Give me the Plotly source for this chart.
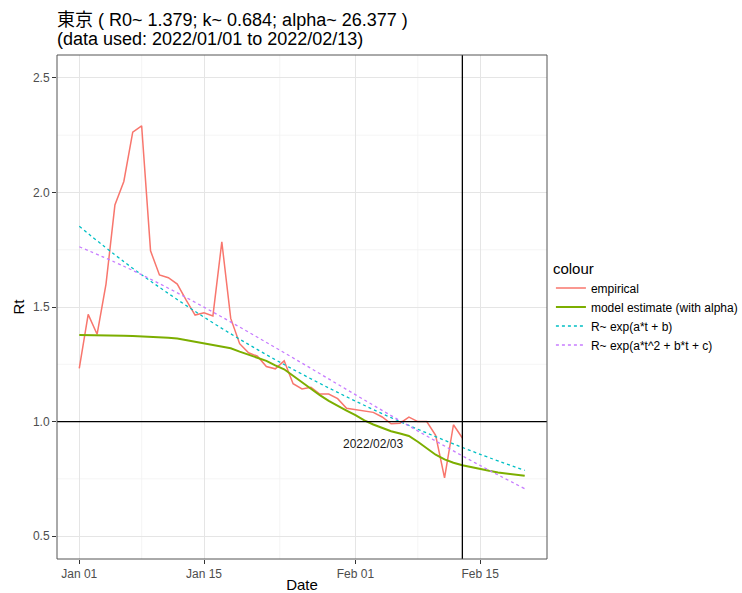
import plotly.graph_objects as go
import pandas as pd

start = pd.Timestamp("2022-01-01")

# empirical Rt (2022-01-01 .. 2022-02-13)
emp_vals = [1.232, 1.468, 1.381, 1.600, 1.945, 2.048, 2.263, 2.291, 1.745, 1.640,
            1.628, 1.600, 1.530, 1.465, 1.475, 1.461, 1.784, 1.450, 1.340, 1.300,
            1.285, 1.240, 1.230, 1.265, 1.165, 1.142, 1.150, 1.120, 1.120, 1.100,
            1.058, 1.052, 1.048, 1.040, 1.020, 0.990, 0.993, 1.019, 1.000, 1.000,
            0.940, 0.754, 0.986, 0.928]

# model estimate (with alpha) 2022-01-01 .. 2022-02-20
model_vals = [1.378, 1.378, 1.378, 1.377, 1.376, 1.375, 1.373, 1.372, 1.370, 1.368,
              1.366, 1.362, 1.355, 1.349, 1.342, 1.336, 1.330, 1.320, 1.305, 1.292,
              1.280, 1.265, 1.245, 1.228, 1.200, 1.171, 1.143, 1.115, 1.090, 1.068,
              1.048, 1.028, 1.005, 0.987, 0.972, 0.958, 0.948, 0.937, 0.912, 0.885,
              0.855, 0.835, 0.820, 0.809, 0.800, 0.792, 0.785, 0.778, 0.772, 0.767,
              0.763]

# fitted curves, read every 5 days from 2022-01-01
fit_days = [0, 5, 10, 15, 20, 25, 30, 35, 40, 45, 50]
exp_lin_vals = [1.852, 1.698, 1.559, 1.431, 1.314, 1.207, 1.108, 1.017, 0.934, 0.857, 0.787]
exp_quad_vals = [1.763, 1.678, 1.582, 1.478, 1.368, 1.255, 1.140, 1.026, 0.915, 0.808, 0.707]

legend_names = ["empirical", "model estimate (with alpha)",
                "R~ exp(a*t + b)", "R~ exp(a*t^2 + b*t + c)"]
colors = ["#F8766D", "#7CAE00", "#00BFC4", "#C77CFF"]

x_ticks = ["2022-01-01", "2022-01-15", "2022-02-01", "2022-02-15"]
x_tick_text = ["Jan 01", "Jan 15", "Feb 01", "Feb 15"]
y_ticks = [0.5, 1.0, 1.5, 2.0, 2.5]

title_line1 = "東京 ( R0~ 1.379; k~ 0.684; alpha~ 26.377 )"
title_line2 = "(data used: 2022/01/01 to 2022/02/13)"

emp_dates = [start + pd.Timedelta(days=i) for i in range(len(emp_vals))]
model_dates = [start + pd.Timedelta(days=i) for i in range(len(model_vals))]
fit_dates = [start + pd.Timedelta(days=d) for d in fit_days]

FONT = "Liberation Sans, Arial, Noto Sans CJK JP, sans-serif"

fig = go.Figure()
fig.add_trace(go.Scatter(x=emp_dates, y=emp_vals, mode="lines", name=legend_names[0],
                         line=dict(color=colors[0], width=1.5)))
fig.add_trace(go.Scatter(x=model_dates, y=model_vals, mode="lines", name=legend_names[1],
                         line=dict(color=colors[1], width=2)))
fig.add_trace(go.Scatter(x=fit_dates, y=exp_lin_vals, mode="lines", name=legend_names[2],
                         line=dict(color=colors[2], width=1.3, dash="dot", shape="spline")))
fig.add_trace(go.Scatter(x=fit_dates, y=exp_quad_vals, mode="lines", name=legend_names[3],
                         line=dict(color=colors[3], width=1.3, dash="dot", shape="spline")))

shapes = []
# minor grid lines
for d in ["2022-01-08", "2022-01-23 12:00", "2022-02-08"]:
    shapes.append(dict(type="line", xref="x", yref="paper", x0=d, x1=d, y0=0, y1=1,
                       line=dict(color="#F2F2F2", width=0.8), layer="below"))
for v in [0.75, 1.25, 1.75, 2.25]:
    shapes.append(dict(type="line", xref="paper", yref="y", x0=0, x1=1, y0=v, y1=v,
                       line=dict(color="#F2F2F2", width=0.8), layer="below"))
# reference lines
shapes.append(dict(type="line", xref="paper", yref="y", x0=0, x1=1, y0=1.0, y1=1.0,
                   line=dict(color="black", width=1.3)))
shapes.append(dict(type="line", xref="x", yref="paper", x0="2022-02-13", x1="2022-02-13",
                   y0=0, y1=1, line=dict(color="black", width=1.3)))
# panel border
shapes.append(dict(type="rect", xref="paper", yref="paper", x0=0, x1=1, y0=0, y1=1,
                   line=dict(color="#555555", width=1)))

fig.update_layout(
    width=742, height=593,
    margin=dict(l=57, r=195, t=55, b=34, autoexpand=False),
    paper_bgcolor="white", plot_bgcolor="white",
    font=dict(family=FONT, size=12, color="#1a1a1a"),
    xaxis=dict(type="date", range=["2021-12-29 12:00", "2022-02-22 12:00"],
               tickvals=x_ticks, ticktext=x_tick_text,
               showgrid=True, gridcolor="#E5E5E5", gridwidth=1,
               ticks="outside", ticklen=4, tickcolor="#333333",
               tickfont=dict(size=12, color="#4D4D4D"),
               title=dict(text="Date", font=dict(size=15, color="black"), standoff=0),
               zeroline=False, showline=False, automargin=False),
    yaxis=dict(range=[0.4, 2.6], tickvals=y_ticks, tickformat=".1f",
               showgrid=True, gridcolor="#E5E5E5", gridwidth=1,
               ticks="outside", ticklen=4, tickcolor="#333333",
               tickfont=dict(size=12, color="#4D4D4D"),
               title=dict(text="Rt", font=dict(size=15, color="black"), standoff=4),
               zeroline=False, showline=False, automargin=False),
    legend=dict(x=1.008, xanchor="left", y=0.5, yanchor="middle",
                title=dict(text="colour", font=dict(size=15, color="black")),
                font=dict(size=12, color="black"), itemwidth=30,
                tracegroupgap=0, bgcolor="rgba(0,0,0,0)"),
    shapes=shapes,
    annotations=[
        dict(x="2022-02-03", y=0.9, xref="x", yref="y", text="2022/02/03",
             showarrow=False, font=dict(size=12, color="#1a1a1a")),
        dict(x=-0.004, y=1.0694, xref="paper", yref="paper", text=title_line1,
             xanchor="left", yanchor="middle", showarrow=False,
             font=dict(size=18, color="black")),
        dict(x=-0.004, y=1.0317, xref="paper", yref="paper", text=title_line2,
             xanchor="left", yanchor="middle", showarrow=False,
             font=dict(size=18, color="black")),
    ],
)

fig.write_html("out.html")
